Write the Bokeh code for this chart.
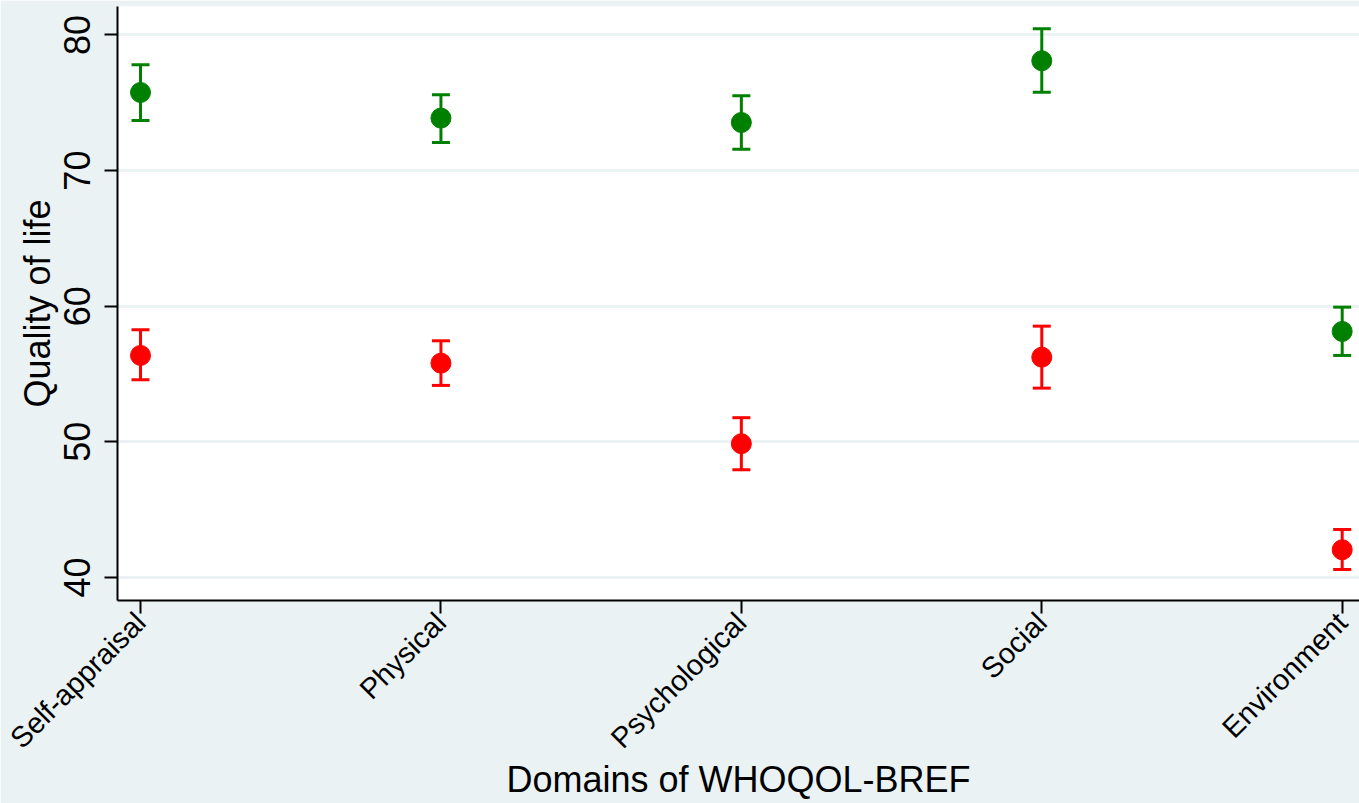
import math

from bokeh.plotting import figure
from bokeh.models import FixedTicker, Range1d, ColumnDataSource
from bokeh.embed import file_html
from bokeh.resources import INLINE

# WHOQOL-BREF domains on the x axis
domains = ["Self-appraisal", "Physical", "Psychological", "Social", "Environment"]
positions = [1, 2, 3, 4, 5]

# upper group (green): mean score with confidence limits
green_mean = [75.76, 73.87, 73.55, 78.10, 58.14]
green_upper = [77.80, 75.59, 75.52, 80.46, 59.93]
green_lower = [73.70, 72.07, 71.58, 75.78, 56.37]

# lower group (red): mean score with confidence limits
red_mean = [56.37, 55.80, 49.86, 56.24, 42.04]
red_upper = [58.26, 57.45, 51.78, 58.53, 43.54]
red_lower = [54.58, 54.16, 47.94, 53.96, 40.59]

y_ticks = [40, 50, 60, 70, 80]

FONT = "Liberation Sans"
BG = "#EAF2F3"

p = figure(
    width=1359,
    height=803,
    x_range=Range1d(0.9234, 5.0576),
    y_range=Range1d(38.30, 82.10),
    output_backend="svg",
    toolbar_location=None,
    min_border_left=117,
    min_border_right=0,
    min_border_top=6,
    min_border_bottom=203,
    background_fill_color="white",
    border_fill_color=BG,
    outline_line_color=None,
)

# grid: horizontal lines only
p.xgrid.visible = False
p.ygrid.grid_line_color = BG
p.ygrid.grid_line_width = 3
p.ygrid.ticker = FixedTicker(ticks=y_ticks)

# x axis
p.xaxis.ticker = FixedTicker(ticks=positions)
p.xaxis.major_label_overrides = {pos: name for pos, name in zip(positions, domains)}
p.xaxis.major_label_orientation = math.pi / 4
p.xaxis.axis_label = "Domains of WHOQOL-BREF"

# y axis: tick labels run along the axis
p.yaxis.ticker = FixedTicker(ticks=y_ticks)
p.yaxis.major_label_orientation = "parallel"
p.yaxis.axis_label = "Quality of life"

for ax in (p.xaxis[0], p.yaxis[0]):
    ax.axis_line_color = "black"
    ax.axis_line_width = 2
    ax.major_tick_line_color = "black"
    ax.major_tick_line_width = 2
    ax.major_tick_out = 13
    ax.major_tick_in = 0
    ax.minor_tick_line_color = None
    ax.major_label_text_font = FONT
    ax.major_label_text_color = "black"
    ax.axis_label_text_font = FONT
    ax.axis_label_text_font_style = "normal"
    ax.axis_label_text_color = "black"

p.xaxis.major_label_text_font_size = "29px"
p.xaxis.major_label_standoff = 4
p.xaxis.axis_label_text_font_size = "36px"
p.xaxis.axis_label_standoff = -10

p.yaxis.major_label_text_font_size = "36px"
p.yaxis.major_label_standoff = 14
p.yaxis.axis_label_text_font_size = "36px"
p.yaxis.axis_label_standoff = 4


def draw_group(mean, upper, lower, color):
    src = ColumnDataSource(dict(x=positions, mean=mean, upper=upper, lower=lower))
    p.segment(x0="x", y0="lower", x1="x", y1="upper", source=src,
              line_color=color, line_width=3)
    p.scatter(x="x", y="upper", source=src, marker="dash", size=18,
              line_color=color, line_width=3)
    p.scatter(x="x", y="lower", source=src, marker="dash", size=18,
              line_color=color, line_width=3)
    p.scatter(x="x", y="mean", source=src, marker="circle", size=20,
              fill_color=color, line_color=color)


draw_group(green_mean, green_upper, green_lower, "#008000")
draw_group(red_mean, red_upper, red_lower, "#FF0000")

open("out.html", "w").write(file_html(p, INLINE))
